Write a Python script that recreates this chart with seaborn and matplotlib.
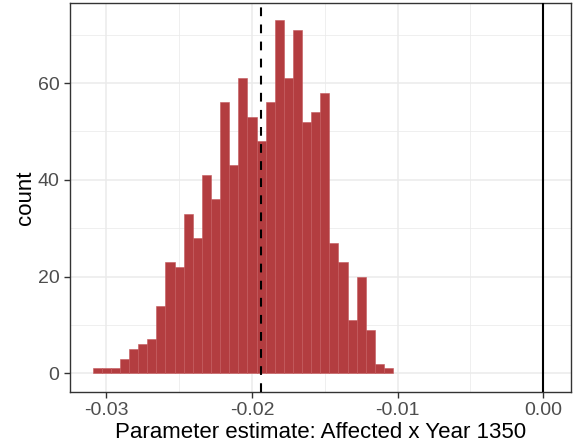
import numpy as np
import pandas as pd
import seaborn as sns
import matplotlib.pyplot as plt
from matplotlib.ticker import FixedLocator

# ---- data ----
counts = [1, 1, 1, 3, 5, 6, 7, 14, 23, 22, 33, 28, 41, 36, 56, 43, 61,
          53, 48, 56, 73, 61, 71, 52, 54, 58, 27, 23, 11, 20, 9, 2, 1]
bin_width = 0.000625
first_center = -0.030625
mean_estimate = -0.01935
zero_ref = 0.0
x_ticks = [-0.03, -0.02, -0.01, 0.00]
x_tick_labels = ["-0.03", "-0.02", "-0.01", "0.00"]
y_ticks = [0, 20, 40, 60]
x_label = "Parameter estimate: Affected x Year 1350"
y_label = "count"

centers = first_center + bin_width * np.arange(len(counts))
edges = [float(c - bin_width / 2) for c in centers] + [float(centers[-1] + bin_width / 2)]
df = pd.DataFrame({"estimate": centers, "n": counts})

sns.set_theme(style="white")
plt.rcParams["font.family"] = ["Liberation Sans", "DejaVu Sans"]

fig = plt.figure(figsize=(5.74, 4.48), dpi=100)
ax = fig.add_axes([70 / 574, (448 - 391.7) / 448, 500.7 / 574, 388.4 / 448])

sns.histplot(data=df, x="estimate", weights="n", bins=edges, ax=ax,
             color="#B33D40", alpha=1.0, edgecolor="#C4585B", linewidth=0.4,
             zorder=2)

ax.axvline(mean_estimate, color="black", lw=1.5, ls=(0, (4.2, 4.0)), zorder=3)
ax.axvline(zero_ref, color="black", lw=1.5, zorder=3)

ax.set_xlim(-0.032492, 0.001881)
ax.set_ylim(-3.8, 76.5)

ax.xaxis.set_major_locator(FixedLocator(x_ticks))
ax.set_xticklabels(x_tick_labels)
ax.xaxis.set_minor_locator(FixedLocator([-0.025, -0.015, -0.005]))
ax.yaxis.set_major_locator(FixedLocator(y_ticks))
ax.yaxis.set_minor_locator(FixedLocator([10, 30, 50, 70]))

ax.grid(which="major", color="#EBEBEB", lw=1.1, zorder=0)
ax.grid(which="minor", color="#EBEBEB", lw=0.55, zorder=0)
ax.set_axisbelow(True)

for s in ax.spines.values():
    s.set_color("#333333")
    s.set_linewidth(1.0)
    s.set_visible(True)

ax.tick_params(axis="both", which="major", length=4.3, width=1.0,
               color="#333333", labelcolor="#4D4D4D", labelsize=14, pad=3.4,
               bottom=True, left=True)
ax.tick_params(axis="both", which="minor", length=0)

ax.set_xlabel(x_label, fontsize=16, color="black", labelpad=2)
ax.set_ylabel(y_label, fontsize=16, color="black", labelpad=0.8)

fig.savefig("out.png", dpi=100)
